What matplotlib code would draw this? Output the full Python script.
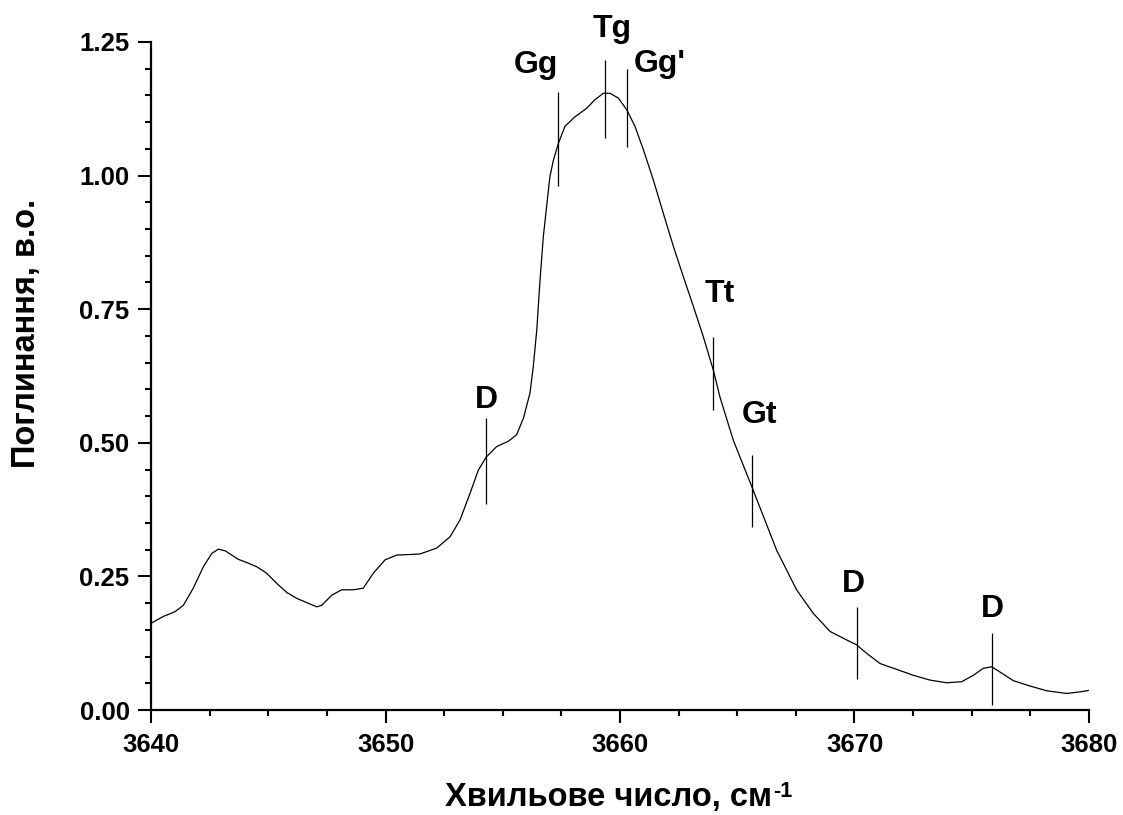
import matplotlib
matplotlib.use('Agg')
import matplotlib.pyplot as plt
from matplotlib.ticker import MultipleLocator, FormatStrFormatter
import numpy as np

# OH stretching band, absorbance vs wavenumber
wavenumber = [3640.03, 3640.52, 3641.02, 3641.38, 3641.80, 3642.23, 3642.59, 3642.87,
              3643.16, 3643.72, 3644.08, 3644.51, 3644.93, 3645.36, 3645.79, 3646.21,
              3646.64, 3647.07, 3647.28, 3647.71, 3648.13, 3648.63, 3649.05, 3649.48,
              3649.98, 3650.48, 3651.04, 3651.47, 3652.18, 3652.75, 3653.18, 3653.60,
              3653.96, 3654.29, 3654.74, 3655.24, 3655.59, 3655.88, 3656.16, 3656.30,
              3656.45, 3656.59, 3656.73, 3656.87, 3657.01, 3657.16, 3657.37, 3657.65,
              3658.08, 3658.58, 3658.93, 3659.29, 3659.57, 3659.93, 3660.29, 3660.64,
              3661.00, 3661.42, 3661.85, 3662.28, 3662.70, 3663.13, 3663.55, 3663.98,
              3664.26, 3664.83, 3665.62, 3666.68, 3667.53, 3668.24,
              3668.96, 3669.67, 3670.09, 3670.52, 3671.09, 3671.80, 3672.51, 3673.22,
              3673.93, 3674.57, 3675.07, 3675.49, 3675.85, 3676.28, 3676.77, 3677.48,
              3678.20, 3679.05, 3679.62, 3680.04]
absorbance = [0.163, 0.175, 0.184, 0.196, 0.228, 0.268, 0.293, 0.301,
              0.298, 0.282, 0.276, 0.268, 0.256, 0.237, 0.220, 0.209,
              0.201, 0.193, 0.196, 0.215, 0.225, 0.225, 0.228, 0.256,
              0.281, 0.290, 0.291, 0.292, 0.303, 0.324, 0.356, 0.405,
              0.449, 0.473, 0.493, 0.503, 0.515, 0.546, 0.593, 0.642,
              0.711, 0.805, 0.886, 0.942, 0.998, 1.029, 1.060, 1.092,
              1.110, 1.126, 1.142, 1.154, 1.154, 1.145, 1.123, 1.092,
              1.048, 0.992, 0.929, 0.867, 0.811, 0.755, 0.699, 0.636,
              0.586, 0.505, 0.418, 0.299, 0.225, 0.181,
              0.147, 0.131, 0.122, 0.106, 0.087, 0.076, 0.065, 0.056,
              0.051, 0.053, 0.065, 0.078, 0.081, 0.069, 0.055, 0.045,
              0.036, 0.031, 0.034, 0.037]

# conformer band assignments: marker position, marker extent, label position
band_names = ['D', 'Gg', 'Tg', "Gg'", 'Tt', 'Gt', 'D', 'D']
band_pos = [3654.27, 3657.37, 3659.36, 3660.29, 3663.98, 3665.62, 3670.12, 3675.85]
band_lo = [0.385, 0.981, 1.070, 1.053, 0.561, 0.342, 0.058, 0.009]
band_hi = [0.546, 1.156, 1.216, 1.199, 0.698, 0.477, 0.193, 0.144]
label_x = [3654.29, 3656.42, 3659.65, 3661.71, 3664.24, 3665.94, 3669.95, 3675.88]
label_y = [0.565, 1.192, 1.259, 1.194, 0.763, 0.537, 0.221, 0.174]

plt.rcParams['font.family'] = ['Liberation Sans', 'DejaVu Sans']
plt.rcParams['font.weight'] = 'bold'

fig = plt.figure(figsize=(11.23, 8.15), dpi=100)
ax = fig.add_axes([0.1345, 0.1288, 0.8352, 0.8197])

ax.plot(wavenumber, absorbance, color='black', linewidth=0.9)
ax.vlines(band_pos, band_lo, band_hi, colors='black', linewidth=0.9)
for name, lx, ly in zip(band_names, label_x, label_y):
    ax.text(lx, ly, name, ha='center', va='baseline', fontsize=23, fontweight='bold')

ax.set_xlim(3640, 3680)
ax.set_ylim(0, 1.25)
ax.xaxis.set_major_locator(MultipleLocator(10))
ax.xaxis.set_minor_locator(MultipleLocator(2.5))
ax.yaxis.set_major_locator(MultipleLocator(0.25))
ax.yaxis.set_minor_locator(MultipleLocator(0.05))
ax.yaxis.set_major_formatter(FormatStrFormatter('%.2f'))

for side in ['top', 'right']:
    ax.spines[side].set_visible(False)
for side in ['left', 'bottom']:
    ax.spines[side].set_linewidth(1.6)

ax.tick_params(which='major', direction='out', length=9.5, width=1.5, labelsize=18.5)
ax.tick_params(which='minor', direction='out', length=4.5, width=1.5)
ax.tick_params(axis='x', which='major', pad=7)
ax.tick_params(axis='y', which='major', pad=6)
for lbl in ax.get_xticklabels() + ax.get_yticklabels():
    lbl.set_fontweight('bold')

ax.set_xlabel('Хвильове число, см', fontsize=23.5, fontweight='bold')
ax.xaxis.set_label_coords(0.488, -0.108)
# superscript of the unit, hung on the right end of the axis title
ax.annotate('-1', xy=(1.0, 1.0), xycoords=ax.xaxis.label, xytext=(0.5, 1),
            textcoords='offset points', ha='left', va='top',
            fontsize=15.5, fontweight='bold')
ax.set_ylabel('Поглинання, в.о.', fontsize=23.5, fontweight='bold')
ax.yaxis.set_label_coords(-0.116, 0.563)

plt.savefig('out.png', dpi=100)
